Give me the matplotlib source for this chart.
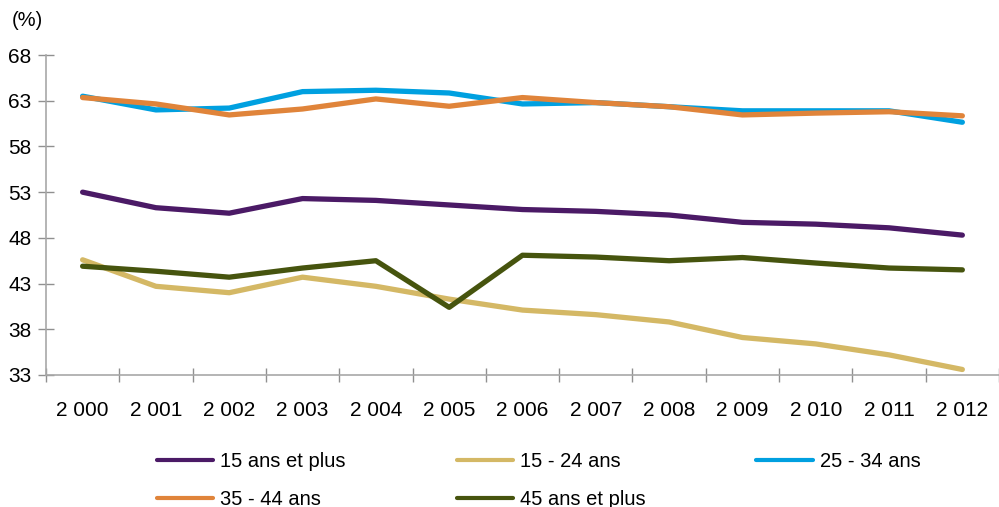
import numpy as np
import matplotlib.pyplot as plt
from matplotlib.ticker import FixedLocator

# ==========================================================
# DATA
# ==========================================================

years = ["2 000", "2 001", "2 002", "2 003", "2 004", "2 005", "2 006",
         "2 007", "2 008", "2 009", "2 010", "2 011", "2 012"]

ans_15_plus = [53.0, 51.3, 50.7, 52.3, 52.1, 51.6, 51.1, 50.9, 50.5, 49.7, 49.5, 49.1, 48.3]
ans_15_24 = [45.6, 42.7, 42.0, 43.7, 42.7, 41.3, 40.1, 39.6, 38.8, 37.1, 36.4, 35.2, 33.6]
ans_25_34 = [63.5, 62.0, 62.2, 64.0, 64.15, 63.85, 62.65, 62.8, 62.35, 61.9, 61.9, 61.9, 60.65]
ans_35_44 = [63.35, 62.65, 61.45, 62.1, 63.2, 62.4, 63.35, 62.8, 62.35, 61.45, 61.65, 61.8, 61.35]
ans_45_plus = [44.9, 44.35, 43.7, 44.7, 45.5, 40.4, 46.1, 45.9, 45.5, 45.85, 45.25, 44.7, 44.5]

y_ticks = [33, 38, 43, 48, 53, 58, 63, 68]

# ==========================================================
# PLOT
# ==========================================================

plt.rcParams["font.family"] = ["Liberation Sans", "DejaVu Sans"]

fig = plt.figure(figsize=(9.99, 5.07), dpi=100)
ax = fig.add_axes([0.046, 0.2604, 0.954, 0.631])

x = np.arange(len(years))

series = [
    (ans_15_plus, "15 ans et plus", "#4B1A66"),
    (ans_15_24, "15 - 24 ans", "#D4B865"),
    (ans_25_34, "25 - 34 ans", "#00A0E0"),
    (ans_35_44, "35 - 44 ans", "#E0843A"),
    (ans_45_plus, "45 ans et plus", "#46540E"),
]

lines = {}
for vals, lab, col in series:
    ln, = ax.plot(x, vals, color=col, lw=3.8, solid_capstyle="round",
                  solid_joinstyle="round", label=lab)
    lines[lab] = ln

ax.set_xlim(-0.5, 12.5)
ax.set_ylim(33, 68)

ax.set_yticks(y_ticks)
ax.set_xticks(x)
ax.set_xticklabels(years)
ax.xaxis.set_minor_locator(FixedLocator(np.arange(-0.5, 13, 1.0)))

ax.tick_params(axis="x", which="major", length=0, pad=19, labelsize=15)
ax.tick_params(axis="x", which="minor", direction="inout", length=10,
               color="#909090", width=1)
ax.tick_params(axis="y", direction="inout", length=11, color="#909090",
               width=1, pad=5, labelsize=15)

for s in ["top", "right"]:
    ax.spines[s].set_visible(False)
for s in ["left", "bottom"]:
    ax.spines[s].set_color("#A8A8A8")
    ax.spines[s].set_linewidth(1.2)

fig.text(0.012, 0.96, "(%)", fontsize=14.5, va="center", ha="left")

order = ["15 ans et plus", "35 - 44 ans", "15 - 24 ans",
         "45 ans et plus", "25 - 34 ans"]

leg = fig.legend(
    [lines[k] for k in order],
    order,
    ncol=3,
    loc="upper left",
    bbox_to_anchor=(0.157, 0.108),
    frameon=False,
    fontsize=14.5,
    handlelength=2.8,
    handletextpad=0.35,
    columnspacing=5.5,
    labelspacing=0.95,
    borderpad=0,
    borderaxespad=0,
)
for h in leg.legend_handles:
    h.set_linewidth(3)

fig.savefig("out.png", dpi=100)
